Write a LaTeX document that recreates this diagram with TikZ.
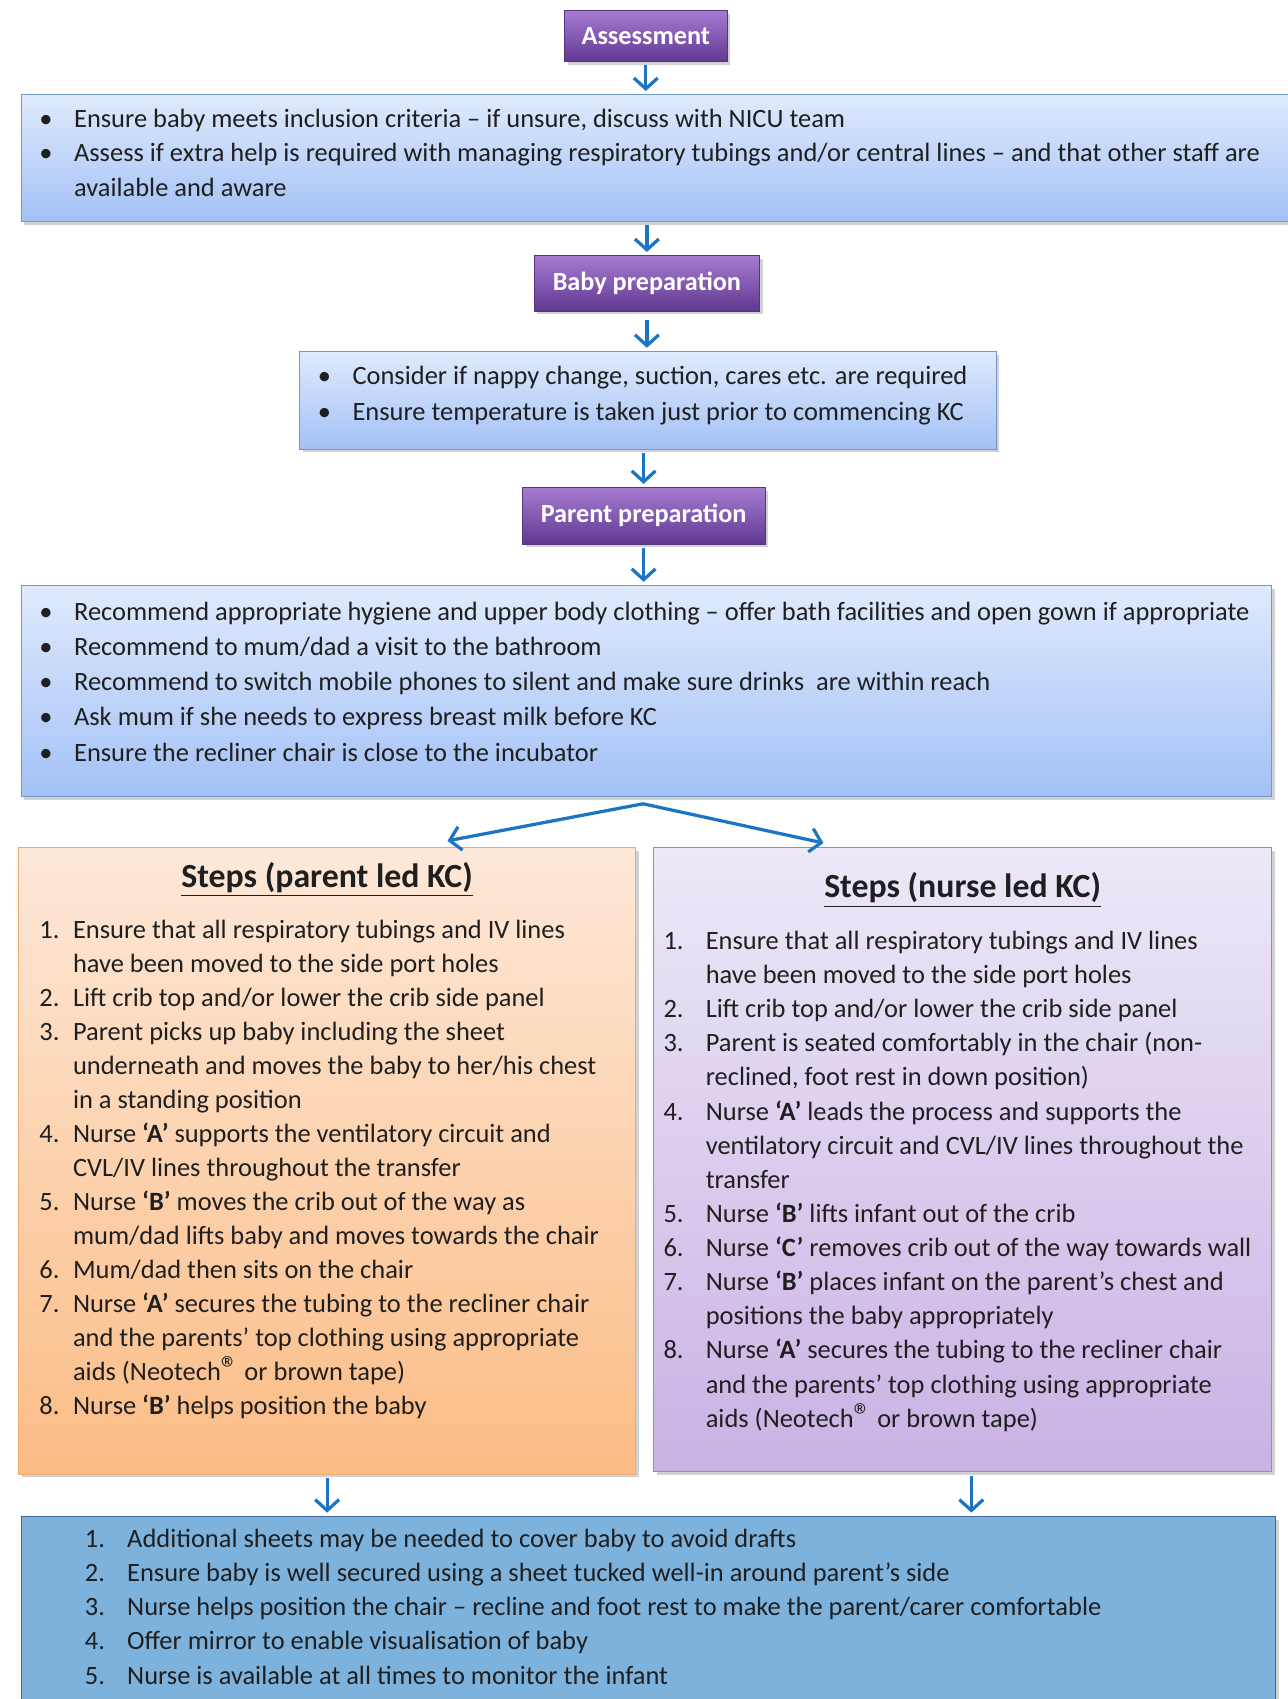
\documentclass[tikz,border=0pt]{standalone}
\usepackage{fontspec}
\setmainfont{Carlito}
\usetikzlibrary{arrows.meta,shadows}
\definecolor{stagetop}{HTML}{A67CD2}
\definecolor{stagebot}{HTML}{613891}
\definecolor{stageedge}{HTML}{55357E}
\definecolor{infotop}{HTML}{DFEAFC}
\definecolor{infobot}{HTML}{A3C1F6}
\definecolor{infoedge}{HTML}{7297CB}
\definecolor{parenttop}{HTML}{FDE8D8}
\definecolor{parentbot}{HTML}{FBBC85}
\definecolor{parentedge}{HTML}{F2A86C}
\definecolor{nursetop}{HTML}{EEE8F7}
\definecolor{nursebot}{HTML}{C8B2E4}
\definecolor{nurseedge}{HTML}{9B86BE}
\definecolor{finishfill}{HTML}{7DB2DC}
\definecolor{finishedge}{HTML}{41659F}
\definecolor{flowblue}{HTML}{1C74C4}
\colorlet{ink}{black!88}
\tikzset{
	softshadow/.style={drop shadow={shadow xshift=1.5pt,shadow yshift=-1.5pt,opacity=.25,fill=black!70}},
	stage/.style={draw=stageedge,top color=stagetop,bottom color=stagebot,text=white,
		font=\fontsize{12.1}{14}\selectfont\bfseries,inner sep=0pt,softshadow},
	infobox/.style={draw=infoedge,top color=infotop,bottom color=infobot,text=ink,
		inner sep=0pt,anchor=north west,softshadow},
	flow/.style={draw=flowblue,line width=1.5pt,-{Straight Barb[length=5pt,width=11pt]},
		shorten <=1.5pt,shorten >=1.5pt}
}
\newcommand{\dotitem}[1]{\par\noindent\hangindent=16pt\hangafter=1\strut\makebox[16pt][l]{\textbullet}#1}
\newcommand{\numitem}[3]{\par\noindent\hangindent=#1\hangafter=1\strut\makebox[#1][l]{#2}#3}
\newcommand{\steptitle}[1]{{\centering\fontsize{15.6}{17}\selectfont\bfseries\strut\underline{#1}\par}}
\newcommand{\regmark}{{\fontsize{16}{16}\selectfont ®}}

\begin{document}
\begin{tikzpicture}[x=0.5pt,y=-0.5pt]
	\useasboundingbox (0,0) rectangle (1188,1568);
	% purple stage headers
	\node[stage,minimum width=75pt,minimum height=23.5pt] (assess) at (596,33.5) {Assessment};
	\node[stage,minimum width=104pt,minimum height=25.5pt] (baby) at (597,261.5) {Baby preparation};
	\node[stage,minimum width=112pt,minimum height=26pt] (parent) at (594,476) {Parent preparation};
	% blue boxes
	\node[infobox] (check) at (19,87) {\parbox[c][58.5pt][t]{586.5pt}{%
		\leftskip=8.5pt\rightskip=0pt plus 1fil\fontsize{12.2}{16}\selectfont\vspace*{3.8pt}%
		\dotitem{Ensure baby meets inclusion criteria – if unsure, discuss with NICU team}
		\dotitem{Assess if extra help is required with managing respiratory tubings and/or central lines – and that other staff are\\available and aware}\par}};
	\node[infobox] (hold) at (276,324) {\parbox[c][45pt][t]{321.5pt}{%
		\leftskip=8.5pt\rightskip=0pt plus 1fil\fontsize{12.2}{16.5}\selectfont\vspace*{3.8pt}%
		\dotitem{Consider if nappy change, suction, cares etc. are required}
		\dotitem{Ensure temperature is taken just prior to commencing KC}\par}};
	\node[infobox] (ready) at (19,540) {\parbox[c][97.5pt][t]{577pt}{%
		\leftskip=8.5pt\rightskip=0pt plus 1fil\fontsize{12.2}{16.25}\selectfont\vspace*{4.6pt}%
		\dotitem{Recommend appropriate hygiene and upper body clothing – offer bath facilities and open gown if appropriate}
		\dotitem{Recommend to mum/dad a visit to the bathroom}
		\dotitem{Recommend to switch mobile phones to silent and make sure drinks\ \ are within reach}
		\dotitem{Ask mum if she needs to express breast milk before KC}
		\dotitem{Ensure the recliner chair is close to the incubator}\par}};
	% the two ways of transfer
	\node[infobox,draw=parentedge,top color=parenttop,bottom color=parentbot] (parentled) at (17,782) {\parbox[c][289pt][t]{284.5pt}{%
		\leftskip=9.5pt\rightskip=0pt plus 1fil\vspace*{6.4pt}%
		\steptitle{Steps (parent led KC)}
		\vspace*{6.5pt}\fontsize{12.2}{15.7}\selectfont
		\numitem{15.5pt}{1.}{Ensure that all respiratory tubings and IV lines\\have been moved to the side port holes}
		\numitem{15.5pt}{2.}{Lift crib top and/or lower the crib side panel}
		\numitem{15.5pt}{3.}{Parent picks up baby including the sheet\\underneath and moves the baby to her/his chest\\in a standing position}
		\numitem{15.5pt}{4.}{Nurse \textbf{‘A’} supports the ventilatory circuit and\\CVL/IV lines throughout the transfer}
		\numitem{15.5pt}{5.}{Nurse \textbf{‘B’} moves the crib out of the way as\\mum/dad lifts baby and moves towards the chair}
		\numitem{15.5pt}{6.}{Mum/dad then sits on the chair}
		\numitem{15.5pt}{7.}{Nurse \textbf{‘A’} secures the tubing to the recliner chair\\and the parents’ top clothing using appropriate\\aids (Neotech\regmark{} or brown tape)}
		\numitem{15.5pt}{8.}{Nurse \textbf{‘B’} helps position the baby}\par}};
	\node[infobox,draw=nurseedge,top color=nursetop,bottom color=nursebot] (nurseled) at (603,782) {\parbox[c][288pt][t]{285pt}{%
		\leftskip=4.5pt\rightskip=0pt plus 1fil\vspace*{11.1pt}%
		\steptitle{Steps (nurse led KC)}
		\vspace*{6.75pt}\fontsize{12.2}{15.75}\selectfont
		\numitem{19.5pt}{1.}{Ensure that all respiratory tubings and IV lines\\have been moved to the side port holes}
		\numitem{19.5pt}{2.}{Lift crib top and/or lower the crib side panel}
		\numitem{19.5pt}{3.}{Parent is seated comfortably in the chair (non-\\reclined, foot rest in down position)}
		\numitem{19.5pt}{4.}{Nurse \textbf{‘A’} leads the process and supports the\\ventilatory circuit and CVL/IV lines throughout the\\transfer}
		\numitem{19.5pt}{5.}{Nurse \textbf{‘B’} lifts infant out of the crib}
		\numitem{19.5pt}{6.}{Nurse \textbf{‘C’} removes crib out of the way towards wall}
		\numitem{19.5pt}{7.}{Nurse \textbf{‘B’} places infant on the parent’s chest and\\positions the baby appropriately}
		\numitem{19.5pt}{8.}{Nurse \textbf{‘A’} secures the tubing to the recliner chair\\and the parents’ top clothing using appropriate\\aids (Neotech\regmark{} or brown tape)}\par}};
	% after the transfer
	\node[infobox,draw=finishedge,top color=finishfill,bottom color=finishfill] (finish) at (19,1399) {\parbox[c][88pt][t]{579pt}{%
		\leftskip=29.5pt\rightskip=0pt plus 1fil\fontsize{12.2}{15.75}\selectfont\vspace*{3.4pt}%
		\numitem{19.5pt}{1.}{Additional sheets may be needed to cover baby to avoid drafts}
		\numitem{19.5pt}{2.}{Ensure baby is well secured using a sheet tucked well-in around parent’s side}
		\numitem{19.5pt}{3.}{Nurse helps position the chair – recline and foot rest to make the parent/carer comfortable}
		\numitem{19.5pt}{4.}{Offer mirror to enable visualisation of baby}
		\numitem{19.5pt}{5.}{Nurse is available at all times to monitor the infant}\par}};
	% connectors
	\coordinate (fork) at ([xshift=-1.5pt,yshift=-3pt]ready.south);
	\coordinate (toparent) at (413,776);
	\coordinate (tonurse) at (760,778);
	\draw[flow] (assess) -- (assess |- check.north);
	\draw[flow] (check.south -| baby) -- (baby);
	\draw[flow,shorten <=4pt] (baby) -- (baby |- hold.north);
	\draw[flow] (hold.south -| parent) -- (parent);
	\draw[flow] (parent) -- (parent |- ready.north);
	\draw[flow,shorten <=0pt,shorten >=0pt] (fork) -- (toparent);
	\draw[flow,shorten <=0pt,shorten >=0pt] (fork) -- (tonurse);
	\draw[flow] (parentled) -- (parentled |- finish.north);
	\draw[flow] ([xshift=4pt]nurseled.south) -- ([xshift=4pt]nurseled.south |- finish.north);
\end{tikzpicture}
\end{document}
